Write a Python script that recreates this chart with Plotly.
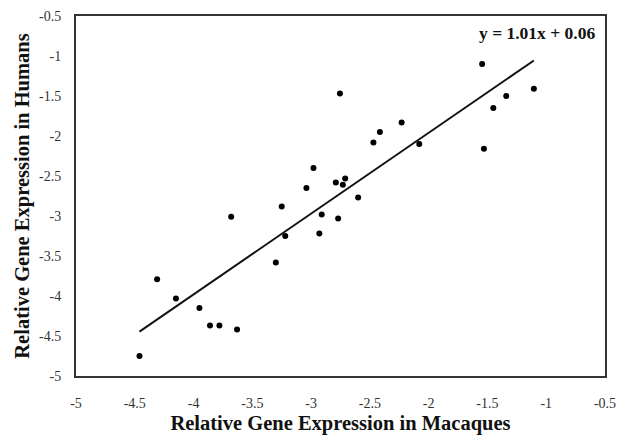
import plotly.graph_objects as go

macaques = [-4.46, -4.31, -4.15, -3.95, -3.86, -3.78, -3.63, -3.68, -3.30, -3.22,
            -3.25, -3.04, -2.98, -2.93, -2.91, -2.77, -2.79, -2.73, -2.71, -2.60,
            -2.755, -2.47, -2.415, -2.23, -2.08, -1.545, -1.53, -1.45, -1.34, -1.105]
humans = [-4.75, -3.79, -4.03, -4.15, -4.37, -4.37, -4.42, -3.01, -3.58, -3.25,
          -2.88, -2.65, -2.40, -3.22, -2.98, -3.03, -2.58, -2.61, -2.53, -2.77,
          -1.47, -2.08, -1.95, -1.83, -2.10, -1.10, -2.16, -1.65, -1.50, -1.41]
slope = 1.01
intercept = 0.06
tick_vals = [-5, -4.5, -4, -3.5, -3, -2.5, -2, -1.5, -1, -0.5]
tick_text = ["-5", "-4.5", "-4", "-3.5", "-3", "-2.5", "-2", "-1.5", "-1", "-0.5"]

x_line = [min(macaques), max(macaques)]
y_line = [slope * v + intercept for v in x_line]

font_serif = "Liberation Serif, Times New Roman, serif"

fig = go.Figure()
fig.add_trace(go.Scatter(x=x_line, y=y_line, mode="lines",
                         line=dict(color="#111", width=2), showlegend=False))
fig.add_trace(go.Scatter(x=macaques, y=humans, mode="markers",
                         marker=dict(color="#000", size=6), showlegend=False))

fig.add_annotation(x=0.985, y=0.985, xref="paper", yref="paper",
                   xanchor="right", yanchor="top", showarrow=False,
                   text="<b>y = 1.01x + 0.06</b>",
                   font=dict(family=font_serif, size=17.5, color="#111"))

axis_common = dict(range=[-5, -0.5], tickvals=tick_vals, ticktext=tick_text,
                   showgrid=False, zeroline=False, showline=True, mirror=True,
                   linecolor="#333", linewidth=2, ticks="", automargin=False,
                   tickfont=dict(family=font_serif, size=14, color="#333"))

fig.update_layout(
    width=625, height=435,
    margin=dict(l=76, r=20, t=16, b=59),
    paper_bgcolor="white", plot_bgcolor="white",
    xaxis=dict(**axis_common,
               title=dict(text="<b>Relative Gene Expression in Macaques</b>",
                          font=dict(family=font_serif, size=20.5, color="#111"),
                          standoff=12),
               ticklabelstandoff=13),
    yaxis=dict(**axis_common,
               title=dict(text="<b>Relative Gene Expression in Humans</b>",
                          font=dict(family=font_serif, size=20.5, color="#111"),
                          standoff=4),
               ticklabelstandoff=10),
)

fig.write_html("out.html")
